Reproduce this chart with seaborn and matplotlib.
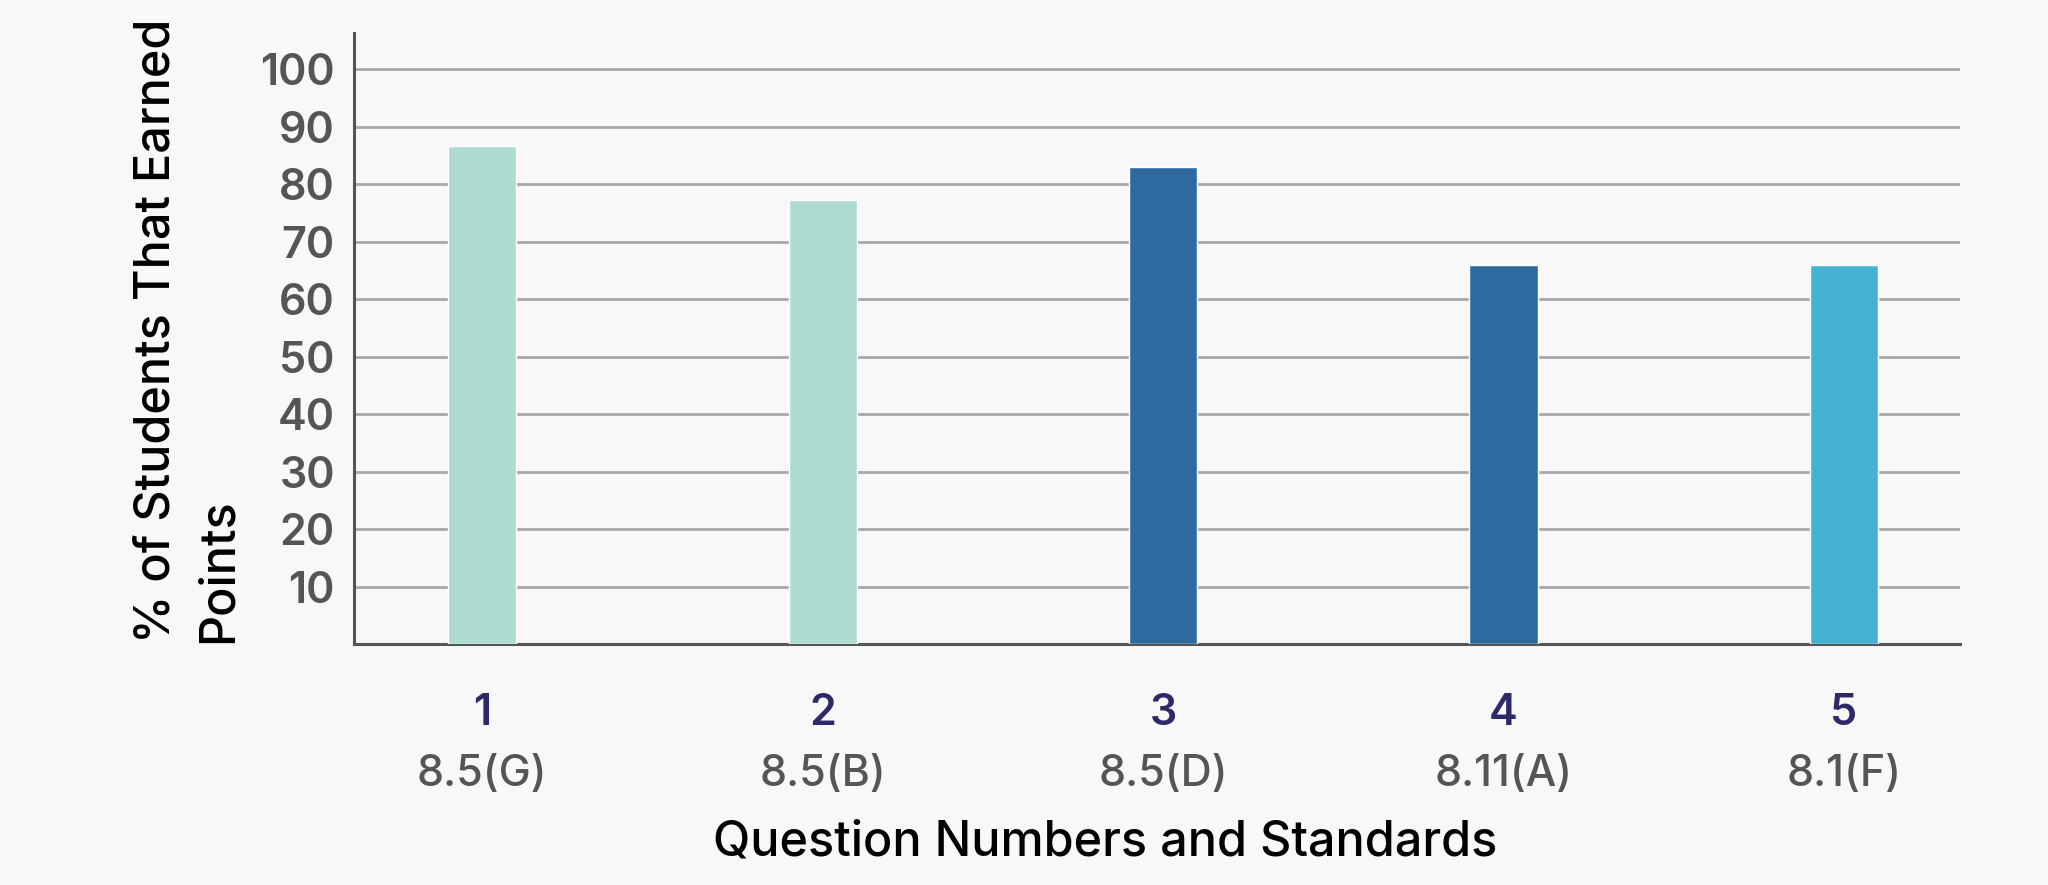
import matplotlib
matplotlib.use("Agg")
import matplotlib.pyplot as plt
import matplotlib.transforms as mtransforms
import seaborn as sns
import pandas as pd

questions = ["1", "2", "3", "4", "5"]
standards = ["8.5(G)", "8.5(B)", "8.5(D)", "8.11(A)", "8.1(F)"]
percent_earned = [86.7, 77.3, 82.9, 66.0, 66.0]
bar_colors = ["#aedcd2", "#aedcd2", "#2e6aa0", "#2e6aa0", "#46b2d3"]
y_ticks = [10, 20, 30, 40, 50, 60, 70, 80, 90, 100]

sns.set_theme(style="white")
plt.rcParams["font.family"] = ["Inter", "DejaVu Sans"]

bg = "#f8f8f8"
fig = plt.figure(figsize=(20.48, 8.85), dpi=100, facecolor=bg)
ax = fig.add_axes([0.173, 0.272, 0.784, 0.691], facecolor=bg)

df = pd.DataFrame({"question": questions, "standard": standards, "pct": percent_earned})
sns.barplot(data=df, x="question", y="pct", hue="question", palette=bar_colors,
            width=0.2, legend=False, ax=ax, saturation=1, zorder=3)

ax.set_ylim(0, 106.3)
ax.set_xlim(-0.376, 4.341)
ax.set_yticks(y_ticks)
ax.set_yticklabels([str(v) for v in y_ticks], fontsize=31, color="#555555", fontweight="semibold")
ax.yaxis.grid(True, color="#a8a8a8", linewidth=2, zorder=0)
ax.xaxis.grid(False)
ax.set_axisbelow(True)

for s in ["top", "right"]:
    ax.spines[s].set_visible(False)
for s in ["left", "bottom"]:
    ax.spines[s].set_color("#555555")
    ax.spines[s].set_linewidth(2.2)

ax.tick_params(axis="y", length=0, pad=14)
ax.tick_params(axis="x", length=13, width=2, color="#555555", direction="out", pad=22)
ax.set_xticks(range(len(questions)))
ax.set_xticklabels(questions, fontsize=31, color="#2e2a6a", fontweight="semibold")

trans = mtransforms.blended_transform_factory(ax.transData, fig.transFigure)
for i, st in enumerate(standards):
    ax.text(i, 1 - 774 / 885, st, transform=trans, ha="center", va="center",
            fontsize=31, color="#555555", fontweight="medium")

ax.set_xlabel("")
ax.set_ylabel("")
fig.text(1105 / 2048, 1 - 842 / 885, "Question Numbers and Standards",
         ha="center", va="center", fontsize=35, color="#000000", fontweight="medium")
fig.text(188 / 2048, 1 - 643 / 885,
         "% of Students That Earned\nPoints", rotation=90, ha="center", va="bottom",
         fontsize=35, color="#000000", fontweight="medium", linespacing=1.45,
         multialignment="left")

fig.savefig("out.png", dpi=100, facecolor=bg)
